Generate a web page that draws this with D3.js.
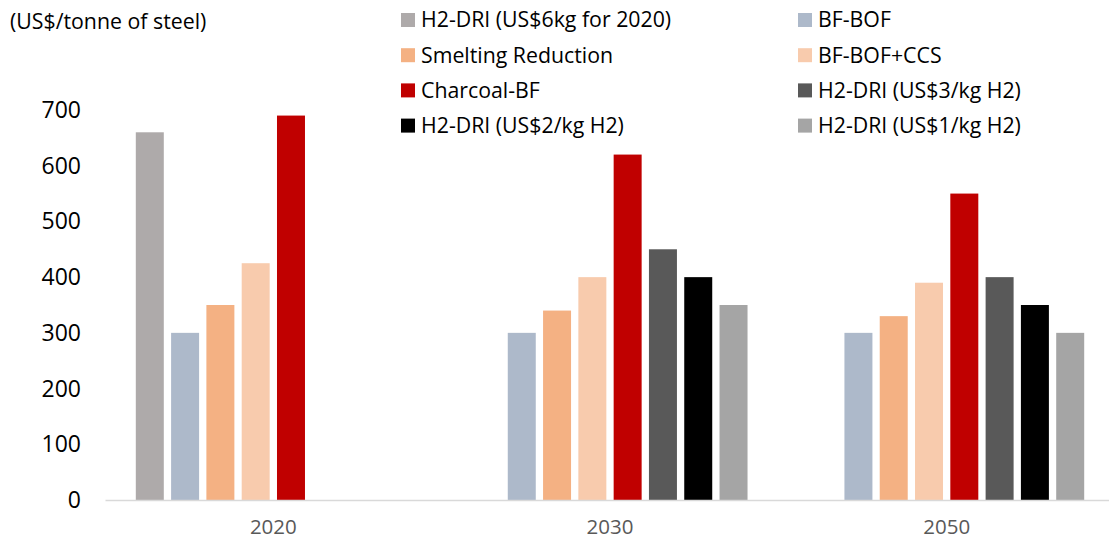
<!DOCTYPE html>
<html>
<head>
<meta charset="utf-8">
<script src="https://cdn.jsdelivr.net/npm/d3@7"></script>
<style>
  body { margin: 0; background: #fff; }
  svg { font-family: 'Open Sans', sans-serif; }
</style>
</head>
<body>
<div id="container"></div>
<script>
const width = 1109;
const height = 543;

const years = ['2020', '2030', '2050'];
const seriesNames = [
  'H2-DRI (US$6kg for 2020)',
  'BF-BOF',
  'Smelting Reduction',
  'BF-BOF+CCS',
  'Charcoal-BF',
  'H2-DRI (US$3/kg H2)',
  'H2-DRI (US$2/kg H2)',
  'H2-DRI (US$1/kg H2)'
];
const seriesColors = ['#aeaaaa', '#adb9ca', '#f4b183', '#f8cbad', '#c00000', '#595959', '#000000', '#a5a5a5'];

// one array per year, same order as seriesNames (null = no bar)
const values2020 = [660, 300, 350, 425, 690, null, null, null];
const values2030 = [null, 300, 340, 400, 620, 450, 400, 350];
const values2050 = [null, 300, 330, 390, 550, 400, 350, 300];
const yTicks = [0, 100, 200, 300, 400, 500, 600, 700];

const valuesByYear = [values2020, values2030, values2050];

const x0 = d3.scaleBand().domain(years).range([105, 1115]).paddingInner(0.183).paddingOuter(0.0915);
const x1 = d3.scaleBand().domain(d3.range(seriesNames.length)).range([0, x0.bandwidth()]).paddingInner(0.207);
const y = d3.scaleLinear().domain([0, 700]).range([500, 110]);

const svg = d3.select('#container')
  .append('svg')
  .attr('width', width)
  .attr('height', height);

// unit label
svg.append('text')
  .attr('x', 10)
  .attr('y', 29)
  .attr('font-size', 21.3)
  .attr('fill', '#000')
  .text('(US$/tonne of steel)');

// y labels
svg.append('g')
  .selectAll('text')
  .data(yTicks)
  .join('text')
  .attr('x', 81)
  .attr('y', d => y(d))
  .attr('dy', '0.35em')
  .attr('text-anchor', 'end')
  .attr('font-size', 23)
  .attr('fill', '#000')
  .text(d => d);

// bars
const groups = svg.append('g')
  .selectAll('g')
  .data(years.map((yr, i) => ({ year: yr, vals: valuesByYear[i] })))
  .join('g')
  .attr('transform', d => `translate(${x0(d.year)},0)`);

groups.selectAll('rect')
  .data(d => d.vals.map((v, i) => ({ v, i })).filter(e => e.v != null))
  .join('rect')
  .attr('x', d => x1(d.i))
  .attr('width', x1.bandwidth())
  .attr('y', d => y(d.v))
  .attr('height', d => y(0) - y(d.v))
  .attr('fill', d => seriesColors[d.i]);

// x axis
const xAxis = svg.append('g')
  .attr('transform', `translate(0,${y(0)})`)
  .call(d3.axisBottom(x0).tickSize(0).tickSizeOuter(0));
xAxis.select('.domain').attr('stroke', '#d9d9d9').attr('stroke-width', 1.5);
xAxis.selectAll('.tick text')
  .attr('font-family', "'Open Sans', sans-serif")
  .attr('font-size', 20.5)
  .attr('fill', '#595959')
  .attr('dy', '1.5em');

// legend
const legend = svg.append('g')
  .selectAll('g')
  .data(seriesNames)
  .join('g')
  .attr('transform', (d, i) => `translate(${i % 2 === 0 ? 401 : 798},${20 + Math.floor(i / 2) * 35.2})`);

legend.append('rect')
  .attr('x', 0)
  .attr('y', -7)
  .attr('width', 14)
  .attr('height', 14)
  .attr('fill', (d, i) => seriesColors[i]);

legend.append('text')
  .attr('x', 20)
  .attr('dy', '0.35em')
  .attr('font-size', 21.3)
  .attr('fill', '#000')
  .text(d => d);
</script>
</body>
</html>
